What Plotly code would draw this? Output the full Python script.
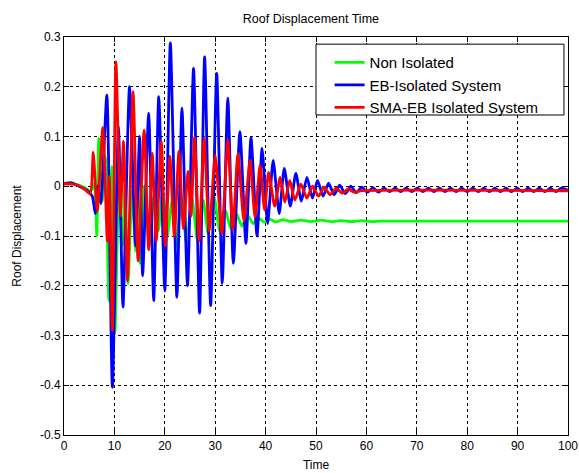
import plotly.graph_objects as go

# Roof displacement response, sampled at the turning points of each record
t_non = [0, 2, 4, 5.3, 6.0, 6.5, 6.9, 7.6, 8.2, 8.9, 9.5, 10.1, 10.9, 11.6, 12.1, 12.7,
         13.5, 14.2, 14.6, 15.1, 16.0, 16.9, 17.8, 18.7, 19.6, 20.5, 21.4, 22.3, 23.3,
         24.3, 25.4, 26.5, 27.6, 28.6, 29.8, 30.9, 32.0, 33.1, 34.2, 35.3, 36.4, 37.5,
         38.6, 39.7, 40.8, 42.0, 43.5, 45.0, 47.0, 49.0, 51.0, 53.0, 55.0, 57.0, 59.0,
         61.0, 63.0, 100]
d_non = [0.006, 0.005, -0.002, -0.01, 0.005, -0.1, 0.096, -0.03, 0.06, -0.23, 0.04,
         -0.295, 0.0, -0.12, 0.0, -0.195, -0.01, -0.13, -0.02, -0.155, 0.0, -0.12, -0.02,
         -0.09, -0.012, -0.1, -0.03, -0.12, -0.02, -0.115, -0.024, -0.11, -0.028, -0.095,
         -0.022, -0.09, -0.048, -0.085, -0.055, -0.08, -0.058, -0.075, -0.064, -0.072,
         -0.066, -0.072, -0.067, -0.071, -0.068, -0.071, -0.068, -0.071, -0.069, -0.071,
         -0.069, -0.071, -0.070, -0.070]

t_eb = [0, 1.5, 3.0, 4.5, 5.6, 6.2, 6.7, 7.3, 8.5, 9.6, 10.8, 11.7, 13.0, 14.2, 15.0,
        15.6, 16.8, 17.8, 18.8, 20.0, 21.1, 22.4, 23.4, 24.5, 25.7, 26.9, 27.9, 29.1,
        30.3, 31.4, 32.5, 33.6, 34.9, 36.1, 37.1, 38.3, 39.3, 40.4, 41.5, 42.7, 43.7,
        44.9, 46.0, 47.1, 48.2, 49.3, 50.3, 51.4, 52.5, 53.6, 54.7, 55.8, 56.9, 58.0,
        59.1, 60.2, 61.3, 62.4, 63.5, 64.6, 65.7, 66.8, 67.9, 69.0, 70.1, 71.2, 72.3,
        73.4, 74.5, 75.6, 76.7, 77.8, 78.9, 80.0, 81.1, 82.2, 83.3, 84.4, 85.5, 86.6,
        87.7, 88.8, 89.9, 91.0, 92.1, 93.2, 94.3, 95.4, 96.5, 97.6, 98.7, 100]
d_eb = [0.005, 0.007, 0.0, -0.008, -0.02, -0.055, 0.0, -0.035, 0.183, -0.404, 0.12,
        -0.243, 0.2, -0.12, 0.1, -0.18, 0.147, -0.23, 0.18, -0.21, 0.288, -0.223, 0.157,
        -0.2, 0.237, -0.255, 0.26, -0.24, 0.227, -0.195, 0.177, -0.155, 0.11, -0.115,
        0.098, -0.1, 0.076, -0.075, 0.052, -0.055, 0.036, -0.04, 0.026, -0.03, 0.018,
        -0.024, 0.012, -0.02, 0.006, -0.017, 0.002, -0.015, 0.0, -0.013, -0.002, -0.012,
        -0.003, -0.012, -0.004, -0.011, -0.004, -0.011, -0.004, -0.011, -0.004, -0.011,
        -0.004, -0.011, -0.004, -0.011, -0.004, -0.011, -0.004, -0.011, -0.004, -0.011,
        -0.004, -0.011, -0.004, -0.011, -0.004, -0.011, -0.004, -0.011, -0.004, -0.011,
        -0.004, -0.011, -0.004, -0.011, -0.004, -0.008]

t_sma = [0, 2, 4, 5.2, 5.8, 6.6, 7.7, 8.6, 9.0, 9.6, 10.3, 11.2, 11.8, 12.6, 13.7, 14.7,
         15.9, 16.8, 17.5, 18.3, 19.3, 20.1, 21.0, 21.9, 22.8, 23.7, 24.6, 25.2, 25.9,
         26.8, 27.8, 28.8, 30.0, 31.3, 32.5, 33.5, 34.5, 35.7, 36.9, 37.9, 38.9, 39.8,
         40.6, 41.8, 42.9, 43.8, 44.8, 45.8, 47.0, 48.2, 49.3, 50.5, 51.6, 52.8, 54.0,
         55.2, 56.4, 57.6, 59.0, 100]
d_sma = [0.005, 0.004, -0.005, -0.015, 0.068, -0.05, 0.118, -0.11, 0.02, -0.29, 0.25,
         -0.06, 0.09, -0.19, 0.19, -0.15, 0.113, -0.128, 0.066, -0.11, 0.09, -0.12, 0.06,
         -0.1, 0.07, -0.085, 0.03, -0.06, 0.098, -0.11, 0.095, -0.09, 0.062, -0.095,
         0.092, -0.088, 0.066, -0.07, 0.052, -0.062, 0.042, -0.048, 0.028, -0.04, 0.018,
         -0.032, 0.012, -0.028, 0.004, -0.024, 0.0, -0.02, -0.002, -0.017, -0.004,
         -0.014, -0.006, -0.012, -0.009, -0.009]

x_ticks = [0, 10, 20, 30, 40, 50, 60, 70, 80, 90, 100]
y_ticks = [0.3, 0.2, 0.1, 0, -0.1, -0.2, -0.3, -0.4, -0.5]
y_labels = ["0.3", "0.2", "0.1", "0", "-0.1", "-0.2", "-0.3", "-0.4", "-0.5"]

FONT = "Liberation Sans, Arial, sans-serif"

fig = go.Figure()
for t, d, name, color in [
    (t_non, d_non, "Non Isolated", "#00ff00"),
    (t_eb, d_eb, "EB-Isolated System", "#0000ff"),
    (t_sma, d_sma, "SMA-EB Isolated System", "#ff0000"),
]:
    fig.add_trace(go.Scatter(
        x=t, y=d, mode="lines", name=name,
        line=dict(color=color, width=2.8, shape="spline", smoothing=0.6),
    ))

axis_common = dict(
    showline=True, linecolor="black", linewidth=1, mirror="ticks",
    ticks="inside", ticklen=5, tickcolor="black",
    showgrid=True, gridcolor="black", gridwidth=1, griddash="dot",
    zeroline=False, automargin=False,
    tickfont=dict(family=FONT, size=12, color="black"),
)

# Legend frame, drawn in plot-area coordinates
fig.add_shape(type="rect", xref="x domain", yref="y domain",
              x0=0.5, x1=0.992, y0=0.804, y1=0.982,
              line=dict(color="black", width=1), fillcolor="white", layer="above")

fig.update_layout(
    width=579, height=473,
    margin=dict(l=64, r=11, t=37, b=38),
    paper_bgcolor="white", plot_bgcolor="white",
    title=dict(text="Roof Displacement Time", x=0.537, xanchor="center",
               y=0.96, yanchor="middle",
               font=dict(family=FONT, size=12.5, color="black")),
    xaxis=dict(range=[0, 100], tickvals=x_ticks,
               title=dict(text="Time", standoff=8,
                          font=dict(family=FONT, size=12, color="black")),
               **axis_common),
    yaxis=dict(range=[-0.5, 0.3], tickvals=y_ticks, ticktext=y_labels,
               title=dict(text="Roof Displacement", standoff=15,
                          font=dict(family=FONT, size=12, color="black")),
               **axis_common),
    legend=dict(x=0.527, xanchor="left", y=0.977, yanchor="top",
                bgcolor="rgba(0,0,0,0)", borderwidth=0,
                font=dict(family=FONT, size=15, color="black"),
                tracegroupgap=0, itemwidth=30),
    showlegend=True,
)

fig.write_html("out.html")
